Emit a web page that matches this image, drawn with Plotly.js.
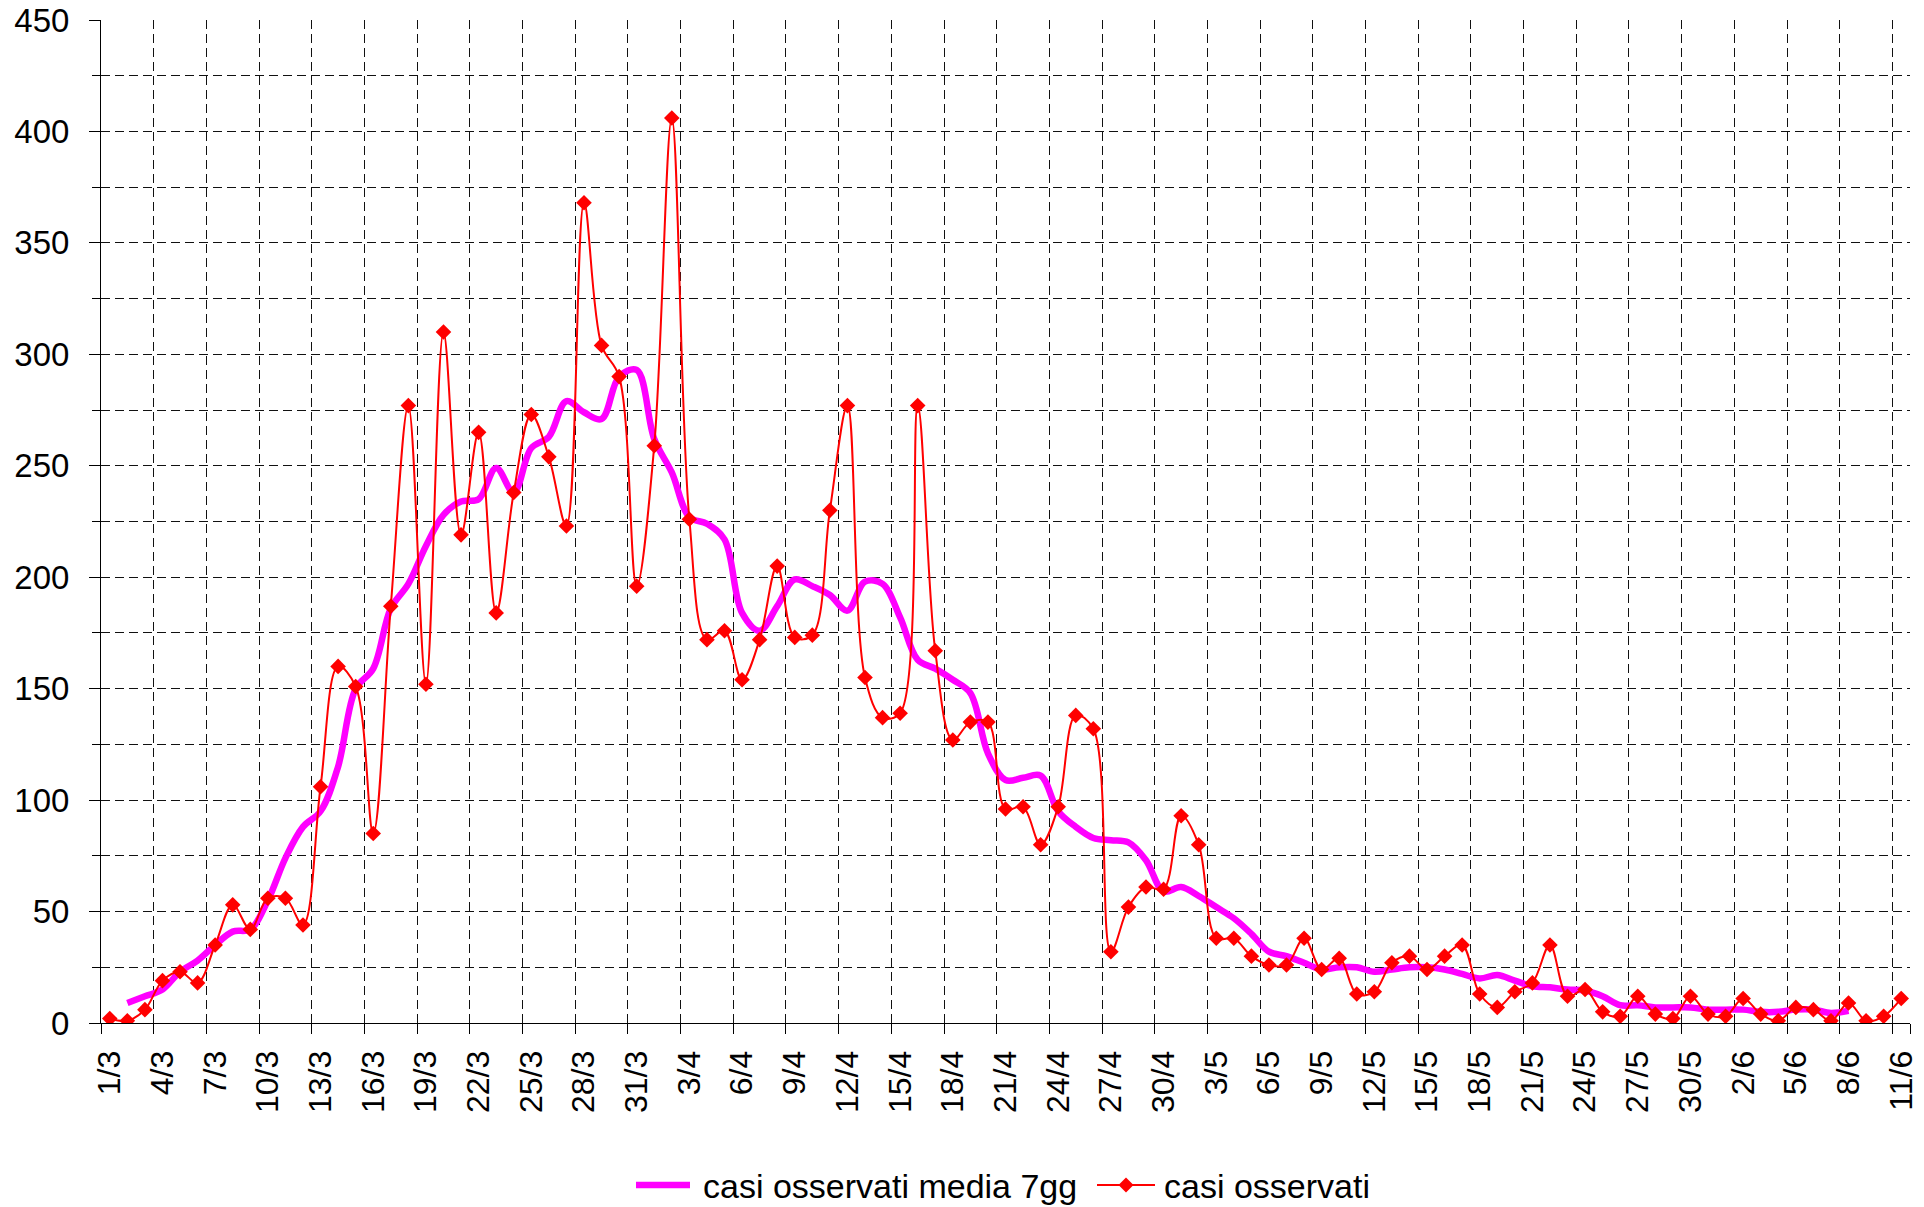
<!DOCTYPE html>
<html>
<head>
<meta charset="utf-8">
<script src="https://cdn.plot.ly/plotly-3.0.1.min.js"></script>
<style>
html,body{margin:0;padding:0;background:#fff;}
#chart{width:1924px;height:1207px;}
</style>
</head>
<body>
<div id="chart"></div>
<script>
// Categories (days, 1 March - 11 June)
const dates = [
"1/3","2/3","3/3","4/3","5/3","6/3","7/3","8/3","9/3","10/3","11/3","12/3","13/3","14/3","15/3","16/3","17/3","18/3","19/3","20/3","21/3","22/3","23/3","24/3","25/3","26/3","27/3","28/3","29/3","30/3","31/3",
"1/4","2/4","3/4","4/4","5/4","6/4","7/4","8/4","9/4","10/4","11/4","12/4","13/4","14/4","15/4","16/4","17/4","18/4","19/4","20/4","21/4","22/4","23/4","24/4","25/4","26/4","27/4","28/4","29/4","30/4",
"1/5","2/5","3/5","4/5","5/5","6/5","7/5","8/5","9/5","10/5","11/5","12/5","13/5","14/5","15/5","16/5","17/5","18/5","19/5","20/5","21/5","22/5","23/5","24/5","25/5","26/5","27/5","28/5","29/5","30/5","31/5",
"1/6","2/6","3/6","4/6","5/6","6/6","7/6","8/6","9/6","10/6","11/6"
];

// casi osservati (daily observed cases)
const casiOsservati = [
2,1,6,19,23,18,35,53,42,56,56,44,106,160,151,85,187,277,152,310,219,265,184,238,273,254,223,368,304,290,196,
259,406,226,172,176,154,172,205,173,174,230,277,155,137,139,277,167,127,135,135,96,97,80,97,138,132,32,52,61,60,
93,80,38,38,30,26,26,38,24,29,13,14,27,30,24,30,35,13,7,14,18,35,12,15,5,3,12,4,2,12,4,
3,11,4,1,7,6,1,9,1,3,11
];

// casi osservati media 7gg (7-day average)
const media7gg = [
null,9,12,15,23,28,35,41,42,55,74,88,95,115,150,159,186,197,214,228,234,235,249,238,258,263,279,274,271,290,293,
262,247,227,224,217,184,176,187,199,196,192,185,198,197,182,163,159,154,148,121,109,110,111,95,88,83,82,81,73,59,
61,57,52,47,40,32,30,27,24,25,25,23,24,25,25,24,22,20,21.5,19,16.5,16,15,14.6,12,8,8,7,7,7,6,
6,6,5,5,6,6,4.5,5.5,null,null,null
];

// Tick labels shown on the x axis (every third day)
const tickLabels = dates.filter((d, i) => i % 3 === 0);

// Series names
const seriesNames = ["casi osservati media 7gg", "casi osservati"];

const FONT = "Liberation Sans, Arial, sans-serif";
const GRID = "#111111";
const DASH = "9px,5px";

const traces = [
  {
    x: dates, y: media7gg, type: "scatter", mode: "lines",
    name: seriesNames[0],
    line: {color: "#FF00FF", width: 6.5, shape: "spline", smoothing: 1},
    connectgaps: false, showlegend: false, hoverinfo: "skip"
  },
  {
    x: dates, y: casiOsservati, type: "scatter", mode: "lines+markers",
    name: seriesNames[1],
    line: {color: "#FF0000", width: 2, shape: "spline", smoothing: 1},
    marker: {symbol: "diamond", size: 12, color: "#FF0000", line: {width: 0}},
    showlegend: false, hoverinfo: "skip"
  }
];

// Plot area in pixels: left 101, right 1910, top 20, bottom 1023
const PL = 101, PR = 1910, PT = 20, PB = 1023;
const px = v => (v - PL) / (PR - PL);
const py = v => (PB - v) / (PB - PT);

const legY = py(1185);
const legTextY = py(1186);

const layout = {
  width: 1924, height: 1207,
  margin: {l: PL, r: 1924 - PR, t: PT, b: 1207 - PB, pad: 0},
  paper_bgcolor: "#ffffff", plot_bgcolor: "#ffffff",
  font: {family: FONT, color: "#000000"},
  showlegend: false,
  xaxis: {
    type: "category",
    range: [-0.5, dates.length - 0.5],
    tickmode: "array", tickvals: tickLabels, ticktext: tickLabels,
    tickson: "boundaries",
    ticks: "outside", ticklen: 10, tickwidth: 1, tickcolor: "#000000",
    tickangle: -90,
    ticklabelstandoff: 14,
    tickfont: {family: FONT, size: 32, color: "#000000"},
    showgrid: true, gridcolor: GRID, gridwidth: 1, griddash: DASH,
    showline: true, linecolor: "#000000", linewidth: 1,
    zeroline: false, fixedrange: true
  },
  yaxis: {
    range: [0, 450], tickmode: "linear", tick0: 0, dtick: 50,
    ticks: "outside", ticklen: 11, tickwidth: 1, tickcolor: "#000000",
    ticklabelstandoff: 13,
    tickfont: {family: FONT, size: 33, color: "#000000"},
    showgrid: true, gridcolor: GRID, gridwidth: 1, griddash: DASH,
    minor: {tick0: 0, dtick: 25, ticks: "outside", ticklen: 8, tickwidth: 1, tickcolor: "#000000",
            showgrid: true, gridcolor: GRID, gridwidth: 1, griddash: DASH},
    showline: true, linecolor: "#000000", linewidth: 1,
    zeroline: false, fixedrange: true
  },
  shapes: [
    {type: "line", xref: "paper", yref: "paper", x0: px(636), x1: px(690), y0: legY, y1: legY,
     line: {color: "#FF00FF", width: 6.5}},
    {type: "line", xref: "paper", yref: "paper", x0: px(1097), x1: px(1155), y0: legY, y1: legY,
     line: {color: "#FF0000", width: 2}},
    {type: "path", xref: "paper", yref: "paper", xsizemode: "pixel", ysizemode: "pixel",
     xanchor: px(1126), yanchor: legY,
     path: "M-7.5,0 L0,7.5 L7.5,0 L0,-7.5 Z",
     fillcolor: "#FF0000", line: {width: 0}}
  ],
  annotations: [
    {xref: "paper", yref: "paper", x: px(701), y: legTextY, xanchor: "left", yanchor: "middle",
     text: seriesNames[0], showarrow: false, font: {family: FONT, size: 34, color: "#000000"}},
    {xref: "paper", yref: "paper", x: px(1162), y: legTextY, xanchor: "left", yanchor: "middle",
     text: seriesNames[1], showarrow: false, font: {family: FONT, size: 34, color: "#000000"}}
  ]
};

Plotly.newPlot("chart", traces, layout, {staticPlot: true, displayModeBar: false});
</script>
</body>
</html>
